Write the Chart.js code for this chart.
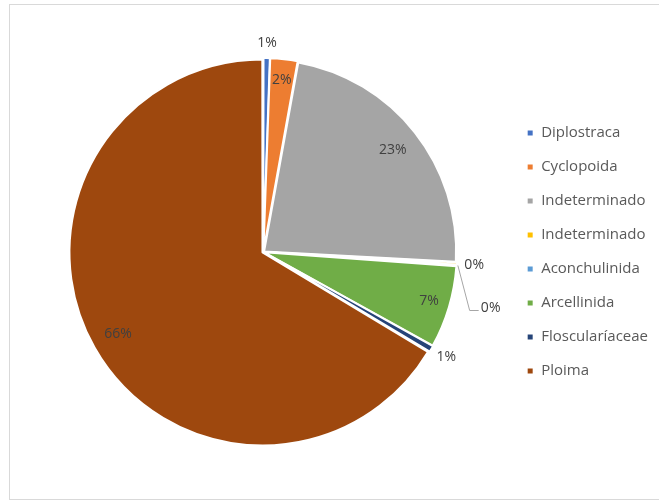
<!DOCTYPE html>
<html>
<head>
<meta charset="utf-8">
<script src="https://cdn.jsdelivr.net/npm/chart.js@4.4.1/dist/chart.umd.min.js"></script>
<style>
    html, body { margin: 0; padding: 0; background: #fff; }
    #frame { position: absolute; left: 9px; top: 4px; width: 660px; height: 496px; border: 1px solid #d9d9d9; box-sizing: border-box; }
    #wrap { position: absolute; left: 0; top: 0; width: 659px; height: 504px; }
</style>
</head>
<body>
<div id="frame"></div>
<div id="wrap"><canvas id="pieChart"></canvas></div>
<script>
// ================================
// PIE - GROUP COMPOSITION
// ================================

const categories = [
    'Diplostraca',
    'Cyclopoida',
    'Indeterminado',
    'Indeterminado',
    'Aconchulinida',
    'Arcellinida',
    'Floscularíaceae',
    'Ploima'
];

// share of each group (%)
const values = [0.55, 2.3, 23.0, 0.2, 0.1, 6.9, 0.55, 66.4];

const sliceColors = [
    '#4472C4',
    '#ED7D31',
    '#A5A5A5',
    '#FFC000',
    '#5B9BD5',
    '#70AD47',
    '#264478',
    '#9E480E'
];

// label placement (fraction of radius) and extra rotation in degrees
const labelRadius = [1.09, 0.90, 0.86, 1.10, 1.22, 0.90, 1.10, 0.87];
const labelShift = [0, 0, 0, 0, 10, 0, 0, 0];
const leaderLine = [false, false, false, false, true, false, false, false];

const total = values.reduce((a, b) => a + b, 0);

// Draw the percentage labels on / around the slices
const sliceLabels = {
    id: 'sliceLabels',
    afterDatasetsDraw(chart) {
        const ctx = chart.ctx;
        const meta = chart.getDatasetMeta(0);
        ctx.save();
        ctx.font = '14px "Open Sans"';
        ctx.fillStyle = '#404040';
        ctx.textAlign = 'center';
        ctx.textBaseline = 'middle';

        meta.data.forEach((arc, i) => {
            const p = arc.getProps(['x', 'y', 'startAngle', 'endAngle', 'outerRadius'], true);
            const baseMid = (p.startAngle + p.endAngle) / 2;
            const mid = baseMid + labelShift[i] * Math.PI / 180;
            const r = p.outerRadius * labelRadius[i];
            const lx = p.x + Math.cos(mid) * r;
            const ly = p.y + Math.sin(mid) * r;
            const text = Math.round(values[i] / total * 100) + '%';

            if (leaderLine[i]) {
                const ex = p.x + Math.cos(baseMid) * (p.outerRadius + 3);
                const ey = p.y + Math.sin(baseMid) * (p.outerRadius + 3);
                ctx.strokeStyle = '#a6a6a6';
                ctx.lineWidth = 1;
                ctx.beginPath();
                ctx.moveTo(ex, ey);
                ctx.lineTo(lx - 21, ly + 2);
                ctx.lineTo(lx - 12, ly + 2);
                ctx.stroke();
            }
            ctx.fillText(text, lx, ly);
        });
        ctx.restore();
    }
};

const ctx = document.getElementById('pieChart').getContext('2d');

const chart = new Chart(ctx, {
    type: 'pie',
    data: {
        labels: categories,
        datasets: [{
            data: values,
            backgroundColor: sliceColors,
            borderColor: '#ffffff',
            borderWidth: 2,
            offset: 4
        }]
    },
    options: {
        responsive: true,
        maintainAspectRatio: false,
        animation: false,
        layout: {
            padding: { left: 19, right: 1, top: 57, bottom: 57 }
        },
        plugins: {
            legend: {
                display: true,
                position: 'right',
                labels: {
                    color: '#595959',
                    font: { size: 15, family: 'Open Sans' },
                    boxWidth: 7,
                    boxHeight: 7,
                    padding: 19
                }
            },
            tooltip: { enabled: false }
        }
    },
    plugins: [sliceLabels]
});
</script>
</body>
</html>
